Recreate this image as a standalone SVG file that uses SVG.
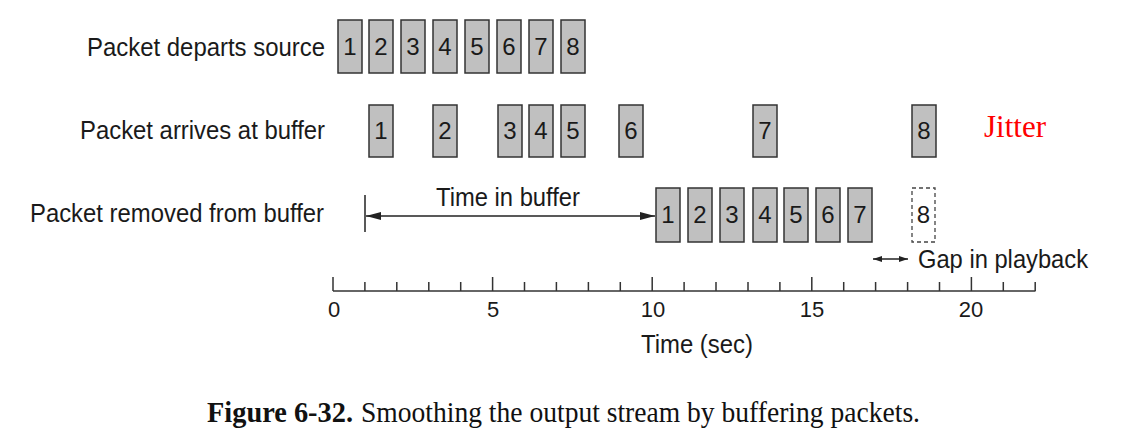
<svg xmlns="http://www.w3.org/2000/svg" width="1129" height="436" viewBox="0 0 1129 436">
<style>
.bg{fill:#ffffff}
.pk{fill:#c0c0c0;stroke:#333333;stroke-width:1.5}
.pkd{fill:#ffffff;stroke:#444444;stroke-width:1.3;stroke-dasharray:4 3}
.num{font-family:"Liberation Sans",Arial,sans-serif;font-size:24px;fill:#1a1a1a;text-anchor:middle}
.lbl{font-family:"Liberation Sans",Arial,sans-serif;font-size:25px;fill:#1a1a1a}
.ax{stroke:#333333;stroke-width:1.5;fill:none}
.axl{font-family:"Liberation Sans",Arial,sans-serif;font-size:22px;fill:#1a1a1a;text-anchor:middle}
.conn{stroke:#222222;stroke-width:1.5;fill:none}
.cap{font-family:"Liberation Serif","Times New Roman",serif;font-size:29px;fill:#111111}
</style>
<defs>
<marker id="ah" viewBox="0 0 15 10" refX="15" refY="5" markerWidth="15" markerHeight="10" markerUnits="userSpaceOnUse" orient="auto-start-reverse">
<path d="M0,1 L15,5 L0,9 z" fill="#222222"/>
</marker>
<marker id="ahs" viewBox="0 0 9 8" refX="9" refY="4" markerWidth="9" markerHeight="8" markerUnits="userSpaceOnUse" orient="auto-start-reverse">
<path d="M0,1 L9,4 L0,7 z" fill="#222222"/>
</marker>
</defs>
<rect class="bg" x="0" y="0" width="1129" height="436"/>

<g id="row-labels">
<text class="lbl" x="87" y="56" textLength="238" lengthAdjust="spacingAndGlyphs">Packet departs source</text>
<text class="lbl" x="80" y="139" textLength="245" lengthAdjust="spacingAndGlyphs">Packet arrives at buffer</text>
<text class="lbl" x="30" y="222" textLength="294" lengthAdjust="spacingAndGlyphs">Packet removed from buffer</text>
</g>

<g id="departs">
<g id="dep-1"><rect class="pk" x="338" y="20" width="24" height="53"/><text class="num" x="350" y="55">1</text></g>
<g id="dep-2"><rect class="pk" x="369" y="20" width="24" height="53"/><text class="num" x="381" y="55">2</text></g>
<g id="dep-3"><rect class="pk" x="401" y="20" width="24" height="53"/><text class="num" x="413" y="55">3</text></g>
<g id="dep-4"><rect class="pk" x="433" y="20" width="24" height="53"/><text class="num" x="445" y="55">4</text></g>
<g id="dep-5"><rect class="pk" x="465" y="20" width="24" height="53"/><text class="num" x="477" y="55">5</text></g>
<g id="dep-6"><rect class="pk" x="497" y="20" width="24" height="53"/><text class="num" x="509" y="55">6</text></g>
<g id="dep-7"><rect class="pk" x="529" y="20" width="24" height="53"/><text class="num" x="541" y="55">7</text></g>
<g id="dep-8"><rect class="pk" x="561" y="20" width="24" height="53"/><text class="num" x="573" y="55">8</text></g>
</g>

<g id="arrives">
<g id="arr-1"><rect class="pk" x="369" y="105" width="24" height="52"/><text class="num" x="381" y="139">1</text></g>
<g id="arr-2"><rect class="pk" x="433" y="105" width="24" height="52"/><text class="num" x="445" y="139">2</text></g>
<g id="arr-3"><rect class="pk" x="498" y="105" width="24" height="52"/><text class="num" x="510" y="139">3</text></g>
<g id="arr-4"><rect class="pk" x="529" y="105" width="24" height="52"/><text class="num" x="541" y="139">4</text></g>
<g id="arr-5"><rect class="pk" x="561" y="105" width="24" height="52"/><text class="num" x="573" y="139">5</text></g>
<g id="arr-6"><rect class="pk" x="619" y="105" width="24" height="52"/><text class="num" x="631" y="139">6</text></g>
<g id="arr-7"><rect class="pk" x="753" y="105" width="24" height="52"/><text class="num" x="765" y="139">7</text></g>
<g id="arr-8"><rect class="pk" x="912" y="105" width="24" height="52"/><text class="num" x="924" y="139">8</text></g>
</g>

<g id="jitter">
<text x="984" y="137" font-family="'Liberation Serif','Times New Roman',serif" font-size="31" fill="#ff0000">Jitter</text>
</g>

<g id="removed">
<g id="rem-1"><rect class="pk" x="656" y="188" width="24" height="54"/><text class="num" x="668" y="223">1</text></g>
<g id="rem-2"><rect class="pk" x="688" y="188" width="24" height="54"/><text class="num" x="700" y="223">2</text></g>
<g id="rem-3"><rect class="pk" x="720" y="188" width="24" height="54"/><text class="num" x="732" y="223">3</text></g>
<g id="rem-4"><rect class="pk" x="753" y="188" width="24" height="54"/><text class="num" x="765" y="223">4</text></g>
<g id="rem-5"><rect class="pk" x="784" y="188" width="24" height="54"/><text class="num" x="796" y="223">5</text></g>
<g id="rem-6"><rect class="pk" x="816" y="188" width="24" height="54"/><text class="num" x="828" y="223">6</text></g>
<g id="rem-7"><rect class="pk" x="848" y="188" width="24" height="54"/><text class="num" x="860" y="223">7</text></g>
<g id="rem-8"><rect class="pkd" x="912" y="188" width="23" height="54"/><text class="num" x="923.5" y="223">8</text></g>
</g>

<g id="connectors">
<line class="conn" x1="365" y1="195" x2="365" y2="232"/>
<line class="conn" x1="366" y1="216" x2="655" y2="216" marker-start="url(#ah)" marker-end="url(#ah)"/>
<line class="conn" x1="873" y1="259" x2="908" y2="259" marker-start="url(#ahs)" marker-end="url(#ahs)"/>
</g>

<g id="annotations">
<text class="lbl" x="436" y="206" textLength="144" lengthAdjust="spacingAndGlyphs">Time in buffer</text>
<text class="lbl" x="918" y="268" textLength="170" lengthAdjust="spacingAndGlyphs">Gap in playback</text>
</g>

<g id="axis">
<line class="ax" x1="333" y1="291" x2="1035.5" y2="291"/>
<path class="ax" d="M333,277V291 M364.9,282V291 M396.8,282V291 M428.8,282V291 M460.7,282V291 M492.6,277V291 M524.5,282V291 M556.4,282V291 M588.4,282V291 M620.3,282V291 M652.2,277V291 M684.1,282V291 M716,282V291 M748,282V291 M779.9,282V291 M811.8,277V291 M843.7,282V291 M875.6,282V291 M907.6,282V291 M939.5,282V291 M971.4,277V291 M1003.3,282V291 M1035.2,282V291"/>
<text class="axl" x="334" y="317">0</text>
<text class="axl" x="493" y="317">5</text>
<text class="axl" x="653" y="317">10</text>
<text class="axl" x="812" y="317">15</text>
<text class="axl" x="971" y="317">20</text>
<text class="lbl" x="641" y="353" textLength="112" lengthAdjust="spacingAndGlyphs">Time (sec)</text>
</g>

<g id="caption">
<text class="cap" x="207" y="422" font-weight="bold" textLength="146" lengthAdjust="spacingAndGlyphs">Figure 6-32.</text>
<text class="cap" x="361" y="422" textLength="559" lengthAdjust="spacingAndGlyphs">Smoothing the output stream by buffering packets.</text>
</g>
</svg>
